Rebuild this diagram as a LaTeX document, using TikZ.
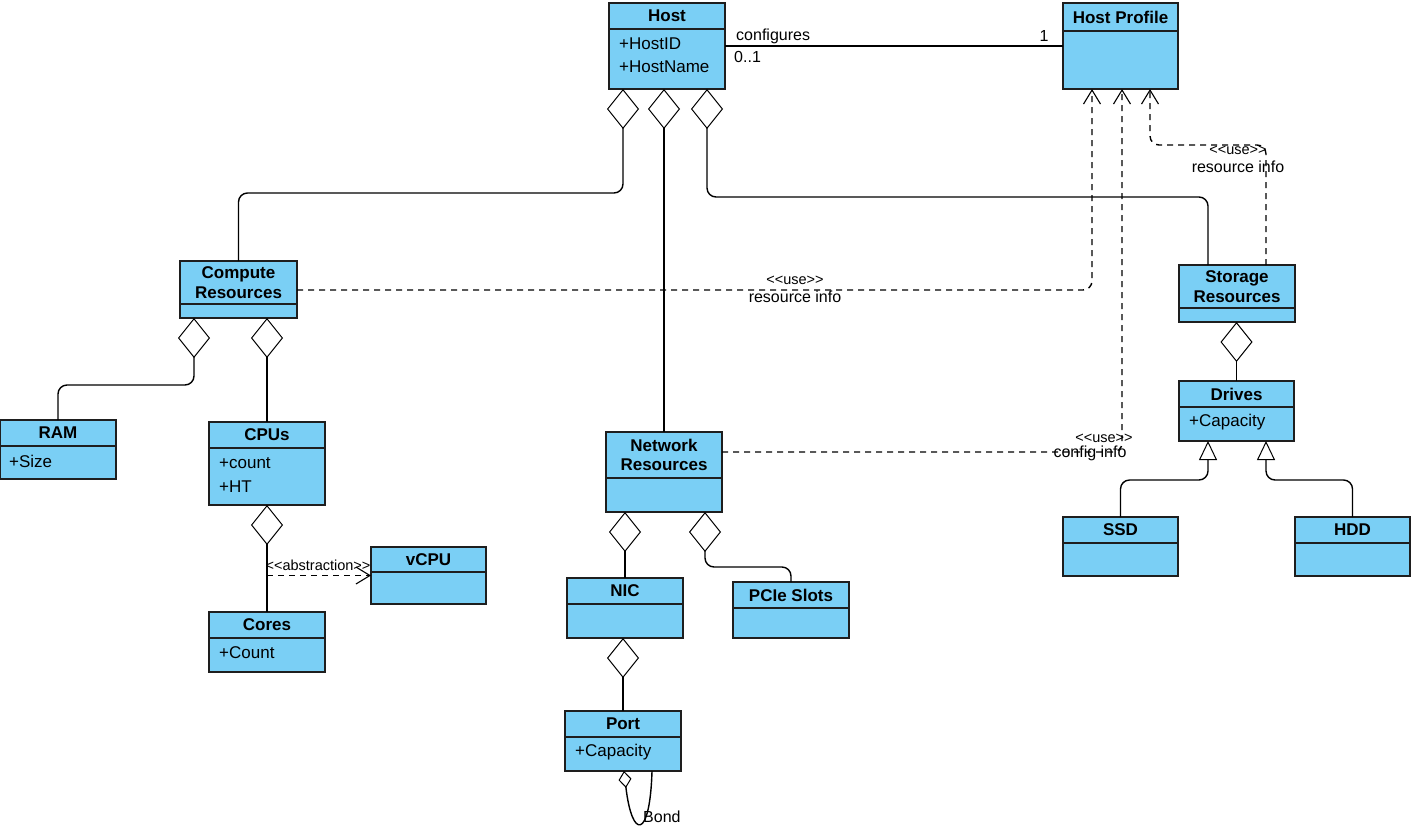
\documentclass[tikz,border=0pt]{standalone}
\usepackage{fontspec}
\setmainfont{Liberation Sans}
\usetikzlibrary{arrows.meta,fit}
\definecolor{clsfill}{RGB}{122,207,245}
\definecolor{edge}{RGB}{30,30,30}
\tikzset{
  boxline/.style={draw=edge, line width=1.5pt},
  classbox/.style={boxline, fill=clsfill, inner sep=0pt, outer sep=0pt},
  ttl/.style={font=\bfseries\fontsize{17}{19.5}\selectfont, align=center, inner sep=0pt},
  attr/.style={font=\fontsize{17}{19}\selectfont, anchor=west, inner sep=0pt},
  lbl/.style={font=\fontsize{16}{18}\selectfont, inner sep=0pt},
  stereo/.style={font=\fontsize{14.5}{16}\selectfont, inner sep=0pt},
  conn/.style={draw=black, line width=1.4pt, rounded corners=9pt},
  agg/.style={conn, {Diamond[open,length=40pt,width=32pt,line width=1pt]}-},
  dep/.style={conn, dash pattern=on 6pt off 5pt, -{Straight Barb[length=14pt,width=17pt,line width=1.1pt]}},
  gen/.style={conn, {Triangle[open,length=19pt,width=18pt,line width=1pt,fill=white]}-},
}
\newcommand\umlcls[7]{%
  \node[classbox, fit={(#2,#3)(#4,#5)}] (#1) {};
  \draw[boxline] (#2,#6) -- (#4,#6);
  \node[ttl] (#1-t) at ({(#2+#4)/2},{(#3+#6)/2}) {#7};
}
\begin{document}
\begin{tikzpicture}[x=1pt,y=-1pt]
\useasboundingbox (0,0) rectangle (1420,825);

% classes
\umlcls{host}{609}{3}{725}{89}{29}{Host}
\node[attr] (host-a1) at (619,44) {+HostID};
\node[attr] (host-a2) at (619,67) {+HostName};
\umlcls{hp}{1063}{3}{1178}{89}{31}{Host Profile}
\umlcls{compute}{180}{261}{297}{318}{304}{Compute\\Resources}
\umlcls{ram}{0}{420}{116}{479}{446}{RAM}
\node[attr] (ram-a1) at (9,461) {+Size};
\umlcls{cpus}{209}{422}{325}{505}{448}{CPUs}
\node[attr] (cpus-a1) at (219,463) {+count};
\node[attr] (cpus-a2) at (219,487) {+HT};
\umlcls{cores}{209}{612}{325}{672}{638}{Cores}
\node[attr] (cores-a1) at (219,653) {+Count};
\umlcls{vcpu}{371}{547}{486}{604}{572}{vCPU}
\umlcls{net}{606}{432}{722}{512}{478}{Network\\Resources}
\umlcls{nic}{567}{578}{683}{638}{604}{NIC}
\umlcls{pcie}{733}{582}{849}{638}{608}{PCIe Slots}
\umlcls{port}{565}{711}{681}{771}{737}{Port}
\node[attr] (port-a1) at (575,752) {+Capacity};
\umlcls{storage}{1179}{265}{1295}{322}{308}{Storage\\Resources}
\umlcls{drives}{1179}{381}{1294}{441}{407}{Drives}
\node[attr] (drives-a1) at (1189,422) {+Capacity};
\umlcls{ssd}{1063}{517}{1178}{576}{543}{SSD}
\umlcls{hdd}{1295}{517}{1410}{576}{543}{HDD}

% association
\draw[conn] (host.east) -- (hp.west);
\node[lbl, anchor=west] (l-conf) at (736,36) {configures};
\node[lbl, anchor=west] (l-01) at (734,57) {0..1};
\node[lbl] (l-1) at (1044,36) {1};

% aggregations
\draw[agg] ([xshift=14pt]host.south west) -- ++(0,104) -| (compute.north);
\draw[agg] (net.north |- host.south) -- (net.north);
\draw[agg] ([xshift=-18pt]host.south east) -- ++(0,108) -| ([xshift=29pt]storage.north west);
\draw[agg] ([xshift=14pt]compute.south west) -- ++(0,67) -| (ram.north);
\draw[agg] (cpus.north |- compute.south) -- (cpus.north);
\draw[agg] (cpus.south) -- (cores.north);
\draw[agg] (nic.north |- net.south) -- (nic.north);
\draw[agg] ([xshift=-17pt]net.south east) -- ++(0,55) -| (pcie.north);
\draw[agg] (port.north |- nic.south) -- (port.north);
\draw[agg] (drives.north |- storage.south) -- (drives.north);
\draw[conn, {Diamond[open,length=17pt,width=13pt,line width=1pt]}-]
  ([xshift=59pt]port.south west) .. controls (632,840) and (650,840) .. ([xshift=87pt]port.south west);
\node[lbl, anchor=west] (l-bond) at (643,817) {Bond};

% generalizations
\draw[gen] ([xshift=29pt]drives.south west) -- ++(0,39) -| (ssd.north);
\draw[gen] ([xshift=-28pt]drives.south east) -- ++(0,39) -| (hdd.north);

% dependencies
\draw[dep] (cpus.south |- vcpu.west) -- (vcpu.west);
\node[stereo] (l-abs) at (318,565) {<\kern0pt<abstraction>\kern0pt>};
\draw[dep] ([yshift=-29pt]compute.north east) -| ([xshift=29pt]hp.south west);
\node[stereo] (l-u1) at (795,280) {<\kern0pt<use>\kern0pt>};
\node[lbl] (l-r1) at (795,297) {resource info};
\draw[dep] ([yshift=-20pt]net.north east) -| ([xshift=59pt]hp.south west);
\node[stereo] (l-u3) at (1104,438) {<\kern0pt<use>\kern0pt>};
\node[lbl] (l-c3) at (1090,453) {config info};
\draw[dep] ([xshift=-29pt]storage.north east) -- ++(0,-120) -| ([xshift=87pt]hp.south west);
\node[stereo] (l-u2) at (1238,150) {<\kern0pt<use>\kern0pt>};
\node[lbl] (l-r2) at (1238,167) {resource info};
\end{tikzpicture}
\end{document}
